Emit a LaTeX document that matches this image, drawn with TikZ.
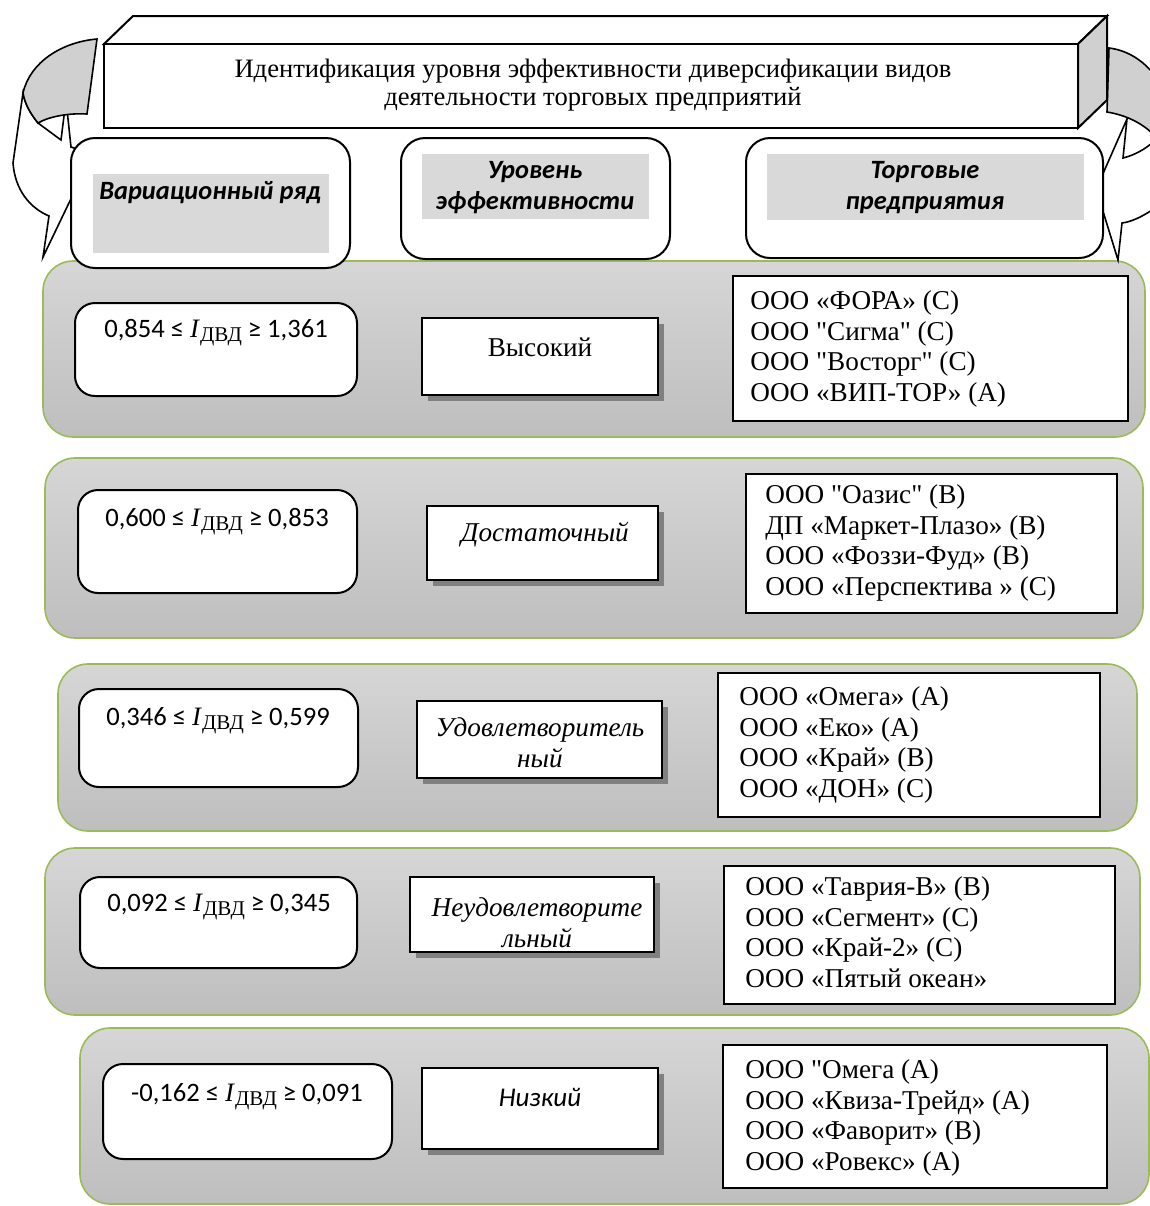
\documentclass[tikz,border=0pt]{standalone}
\usepackage{fontspec}
\setmainfont{Liberation Serif}[Ligatures=TeXOff]
\newfontfamily\calib{Carlito}[Ligatures=TeXOff]
\usetikzlibrary{fit,shadows}
\definecolor{bandgreen}{HTML}{9BBB59}
\definecolor{hdrgray}{HTML}{D9D9D9}
\definecolor{sidegray}{HTML}{D0D0D0}
\definecolor{shadowgray}{HTML}{808080}
\definecolor{bandtop}{HTML}{D6D6D6}
\definecolor{bandbot}{HTML}{BEBEBE}
\newcommand\fsz{\fontsize{13.6}{15.3}\selectfont}
\newcommand\Idvd{\textit{I}\raisebox{-0.35ex}{\fontsize{10.5}{12}\selectfont ДВД}}
\newcommand\rng[2]{{\calib #1 ≤ }\Idvd{\calib{} ≥ #2}}
\tikzset{
  x=0.5pt,y=-0.5pt,
  band/.style={draw=bandgreen, line width=0.8pt, rounded corners=15pt, top color=bandtop, bottom color=bandbot, inner sep=0pt},
  hdrbox/.style={draw=black, line width=1pt, rounded corners=12pt, fill=white, inner sep=0pt},
  hdrfill/.style={fill=hdrgray, inner sep=0pt},
  hdrtext/.style={font=\calib\bfseries\itshape\fontsize{13.2}{15.5}\selectfont, align=center, inner sep=0pt},
  rngbox/.style={draw=black, line width=1pt, rounded corners=10pt, fill=white, inner sep=0pt},
  rngtext/.style={font=\fontsize{13.3}{15.3}\selectfont, inner sep=0pt},
  lvlbox/.style={draw=black, line width=1pt, fill=white, inner sep=0pt,
     drop shadow={shadow xshift=3pt, shadow yshift=-3pt, fill=shadowgray, opacity=1}},
  lvltext/.style={font=\fsz\itshape, align=center, inner sep=0pt},
  cmpbox/.style={draw=black, line width=1pt, fill=white, inner sep=0pt},
  cmptext/.style={font=\fsz, align=left, anchor=west, inner sep=0pt},
  ribbon/.style={draw=black, line width=0.8pt, fill=white, line join=miter},
  ribbonback/.style={draw=black, line width=0.8pt, fill=sidegray},
}
\begin{document}
\begin{tikzpicture}
\useasboundingbox (0,0) rectangle (1150,1206);

% ---------- bands ----------
\node[band, fit={(43,261) (1145,437)}] (b1) {};
\node[band, fit={(45,458) (1143,638)}] (b2) {};
\node[band, fit={(58,664) (1137,831)}] (b3) {};
\node[band, fit={(45,848) (1140,1015)}] (b4) {};
\node[band, fit={(80,1028) (1149,1204)}] (b5) {};

% ---------- left curved ribbon ----------
\path[ribbon] (23,93) -- (13,163) .. controls (15,190) and (30,208) .. (49,216)
  -- (43,257) -- (80,180) -- (80,150) -- (71,147) -- (66,100) -- (61,140) -- (38,123)
  .. controls (30,113) and (25,104) .. (23,93) -- cycle;
\path[ribbonback] (97,39) .. controls (62,42) and (30,62) .. (23,93)
  .. controls (25,104) and (30,113) .. (38,123)
  .. controls (50,116) and (70,113) .. (87,114) -- cycle;

% ---------- right curved ribbon ----------
\path[ribbon] (1127,119) -- (1123,158) .. controls (1135,155) and (1145,149) .. (1152,143)
  -- (1152,210) .. controls (1140,218) and (1130,222) .. (1122,223)
  -- (1118,260) -- (1098,195) -- (1098,185) -- cycle;
\path[ribbonback] (1109,48) .. controls (1125,50) and (1140,58) .. (1152,72)
  -- (1152,133) .. controls (1140,122) and (1125,115) .. (1107,112) -- cycle;

% ---------- title 3D box ----------
\path[draw=black, line width=1pt, fill=white] (104,44) -- (133,16) -- (1107,16) -- (1078,44) -- cycle;
\path[draw=black, line width=1pt, fill=sidegray] (1078,44) -- (1107,16) -- (1107,100) -- (1078,128) -- cycle;
\node[draw=black, line width=1pt, fill=white, inner sep=0pt, fit={(104,44) (1078,128)}] (titlebox) {};
\node[font=\fontsize{13.3}{14.2}\selectfont, align=center, inner sep=0pt] (title) at (593,85)
  {Идентификация уровня эффективности диверсификации видов\\деятельности торговых предприятий};

% ---------- header boxes ----------
\node[hdrbox, fit={(71,138) (350,268)}] (h1) {};
\node[hdrfill, fit={(93,174) (329,253)}] (h1f) {};
\node[hdrtext] (h1t) at (210,193) {Вариационный ряд};

\node[hdrbox, fit={(401,138) (670,259)}] (h2) {};
\node[hdrfill, fit={(422,154) (649,219)}] (h2f) {};
\node[hdrtext] (h2t) at (535,188) {Уровень\\эффективности};

\node[hdrbox, fit={(746,138) (1103,258)}] (h3) {};
\node[hdrfill, fit={(767,154) (1084,220)}] (h3f) {};
\node[hdrtext] (h3t) at (925,188) {Торговые\\предприятия};

% ---------- row 1 ----------
\node[rngbox, fit={(75,303) (357,396)}] (r1) {};
\node[rngtext] (r1t) at (216,333) {\rng{0,854}{1,361}};
\node[lvlbox, fit={(422,318) (658,395)}] (l1) {};
\node[lvltext, font=\fsz\upshape] (l1t) at (540,347) {Высокий};
\node[cmpbox, fit={(733,276) (1128,421)}] (c1) {};
\node[cmptext] (c1t) at (750,349) {ООО «ФОРА» (С)\\ООО "Сигма" (С)\\ООО "Восторг" (С)\\ООО «ВИП-ТОР» (А)};

% ---------- row 2 ----------
\node[rngbox, fit={(78,490) (357,593)}] (r2) {};
\node[rngtext] (r2t) at (217,522) {\rng{0,600}{0,853}};
\node[lvlbox, fit={(427,506) (658,580)}] (l2) {};
\node[lvltext] (l2t) at (545,535) {Достаточный};
\node[cmpbox, fit={(746,474) (1117,613)}] (c2) {};
\node[cmptext] (c2t) at (765,543) {ООО "Оазис" (В)\\ДП «Маркет-Плазо» (В)\\ООО «Фоззи-Фуд» (В)\\ООО «Перспектива » (С)};

% ---------- row 3 ----------
\node[rngbox, fit={(79,689) (358,787)}] (r3) {};
\node[rngtext] (r3t) at (218,721) {\rng{0,346}{0,599}};
\node[lvlbox, fit={(417,701) (662,778)}] (l3) {};
\node[lvltext] (l3t) at (540,743) {Удовлетворитель\\ный};
\node[cmpbox, fit={(718,673) (1100,817)}] (c3) {};
\node[cmptext] (c3t) at (739,745) {ООО «Омега» (А)\\ООО «Еко» (А)\\ООО «Край» (В)\\ООО «ДОН» (С)};

% ---------- row 4 ----------
\node[rngbox, fit={(80,877) (357,968)}] (r4) {};
\node[rngtext] (r4t) at (219,907) {\rng{0,092}{0,345}};
\node[lvlbox, fit={(410,877) (654,952)}] (l4) {};
\node[lvltext] (l4t) at (537,923) {Неудовлетворите\\льный};
\node[cmpbox, fit={(724,866) (1115,1004)}] (c4) {};
\node[cmptext] (c4t) at (745,932) {ООО «Таврия-В» (В)\\ООО «Сегмент» (С)\\ООО «Край-2» (С)\\ООО «Пятый океан»};

% ---------- row 5 ----------
\node[rngbox, fit={(103,1064) (392,1159)}] (r5) {};
\node[rngtext] (r5t) at (247,1097) {\rng{-0,162}{0,091}};
\node[lvlbox, fit={(422,1068) (658,1149)}] (l5) {};
\node[lvltext, font=\calib\itshape\fontsize{13.5}{15.3}\selectfont] (l5t) at (540,1097) {Низкий};
\node[cmpbox, fit={(723,1045) (1107,1188)}] (c5) {};
\node[cmptext] (c5t) at (745,1118) {ООО "Омега (А)\\ООО «Квиза-Трейд» (А)\\ООО «Фаворит» (В)\\ООО «Ровекс» (А)};
\end{tikzpicture}
\end{document}
